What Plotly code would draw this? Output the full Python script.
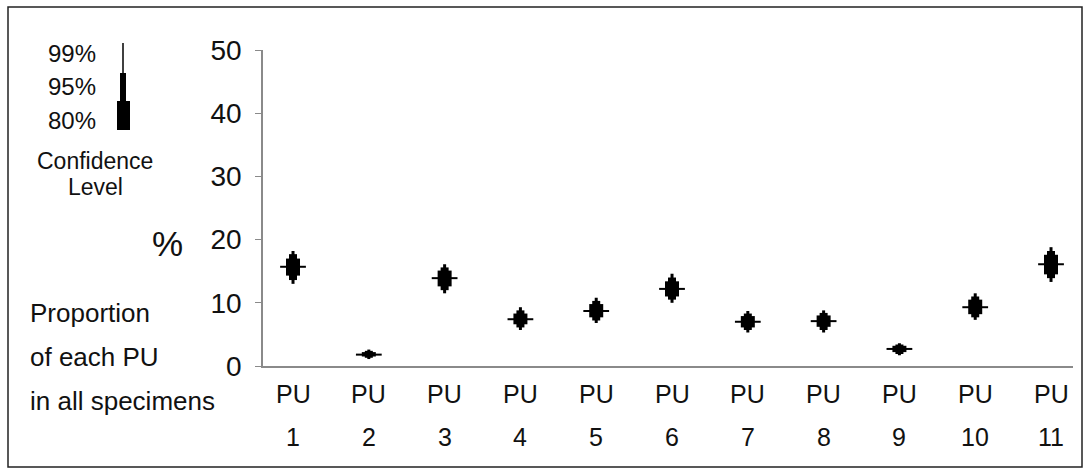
import plotly.graph_objects as go

categories = ["PU<br>1", "PU<br>2", "PU<br>3", "PU<br>4", "PU<br>5", "PU<br>6",
              "PU<br>7", "PU<br>8", "PU<br>9", "PU<br>10", "PU<br>11"]
pu_num = ["1", "2", "3", "4", "5", "6", "7", "8", "9", "10", "11"]
median = [15.7, 1.8, 13.9, 7.4, 8.7, 12.2, 7.0, 7.1, 2.7, 9.3, 16.1]
lo80 = [14.3, 1.5, 12.6, 6.6, 7.7, 11.0, 6.1, 6.2, 2.2, 8.2, 14.5]
hi80 = [17.0, 2.2, 15.1, 8.3, 9.8, 13.4, 7.9, 8.0, 3.2, 10.5, 17.6]
lo95 = [13.6, 1.3, 12.0, 6.1, 7.2, 10.5, 5.7, 5.7, 1.9, 7.7, 13.9]
hi95 = [17.7, 2.4, 15.6, 8.8, 10.3, 14.0, 8.3, 8.4, 3.4, 11.0, 18.2]
lo99 = [13.0, 1.1, 11.5, 5.7, 6.8, 10.0, 5.3, 5.3, 1.7, 7.3, 13.3]
hi99 = [18.2, 2.6, 16.1, 9.3, 10.8, 14.6, 8.7, 8.8, 3.6, 11.5, 18.8]
y_ticks = [0, 10, 20, 30, 40, 50]

W, H = 1089, 473
FONT = "Liberation Sans, Arial, sans-serif"
xpos = list(range(1, len(pu_num) + 1))


def seg_trace(lo, hi, width):
    xs, ys = [], []
    for x, a, b in zip(xpos, lo, hi):
        xs += [x, x, None]
        ys += [a, b, None]
    return go.Scatter(x=xs, y=ys, mode="lines", line=dict(color="black", width=width),
                      hoverinfo="skip", showlegend=False)


fig = go.Figure()
fig.add_trace(seg_trace(lo99, hi99, 3))
fig.add_trace(seg_trace(lo95, hi95, 8))
fig.add_trace(seg_trace(lo80, hi80, 14))

mx, my = [], []
for x, m in zip(xpos, median):
    mx += [x - 0.17, x + 0.17, None]
    my += [m, m, None]
fig.add_trace(go.Scatter(x=mx, y=my, mode="lines", line=dict(color="black", width=2),
                         hoverinfo="skip", showlegend=False))

def px(x):
    return x / W

def py(y):
    return 1 - y / H

fig.update_layout(
    template="none",
    width=W, height=H,
    margin=dict(l=0, r=0, t=0, b=0, autoexpand=False),
    paper_bgcolor="white", plot_bgcolor="white",
    font=dict(family=FONT, size=25, color="#111111"),
    xaxis=dict(domain=[px(263), px(1073)], range=[0.604, 11.29], showgrid=False,
               zeroline=False, showline=True, linecolor="#8a8a8a", linewidth=2,
               showticklabels=False, ticks="", fixedrange=True, automargin=False),
    yaxis=dict(domain=[py(366), py(50)], range=[0, 50], showgrid=False, zeroline=False,
               showline=True, linecolor="#8a8a8a", linewidth=1.5, ticks="outside",
               ticklen=6, tickcolor="#8a8a8a", tickvals=y_ticks, ticklabelstandoff=8,
               tickfont=dict(size=28, family=FONT, color="#111111"), fixedrange=True,
               automargin=False),
)

ann = []
for x, n in zip(xpos, pu_num):
    ann.append(dict(x=x, y=py(394), xref="x", yref="paper", text="PU", showarrow=False,
                    font=dict(size=25), xanchor="center", yanchor="middle"))
    ann.append(dict(x=x, y=py(437), xref="x", yref="paper", text=n, showarrow=False,
                    font=dict(size=25), xanchor="center", yanchor="middle"))

left_texts = [
    ("99%", 98, 53, "right", 24),
    ("95%", 98, 86, "right", 24),
    ("80%", 98, 120, "right", 24),
    ("Confidence", 95, 161, "center", 23),
    ("Level", 95, 187, "center", 23),
    ("%", 185, 243, "right", 35),
    ("Proportion", 28, 313, "left", 26),
    ("of each PU", 28, 357, "left", 26),
    ("in all specimens", 28, 401, "left", 26),
]
for t, x, y, anc, s in left_texts:
    ann.append(dict(x=px(x), y=py(y), xref="paper", yref="paper", text=t, showarrow=False,
                    font=dict(size=s), xanchor=anc, yanchor="middle"))
fig.update_layout(annotations=ann)

shapes = [
    dict(type="line", xref="paper", yref="paper", x0=px(123), x1=px(123), y0=py(43), y1=py(74),
         line=dict(color="black", width=1.5)),
    dict(type="rect", xref="paper", yref="paper", x0=px(120), x1=px(126), y0=py(73), y1=py(102),
         fillcolor="black", line=dict(width=0)),
    dict(type="rect", xref="paper", yref="paper", x0=px(117), x1=px(130), y0=py(101), y1=py(130),
         fillcolor="black", line=dict(width=0)),
    dict(type="rect", xref="paper", yref="paper", x0=px(8), x1=px(1082), y0=py(467), y1=py(7),
         line=dict(color="#222222", width=1.5), fillcolor="rgba(0,0,0,0)"),
]
fig.update_layout(shapes=shapes)

fig.write_html("out.html", config={"displayModeBar": False},
               post_script="document.body.style.margin='0';document.body.style.overflow='hidden';")
